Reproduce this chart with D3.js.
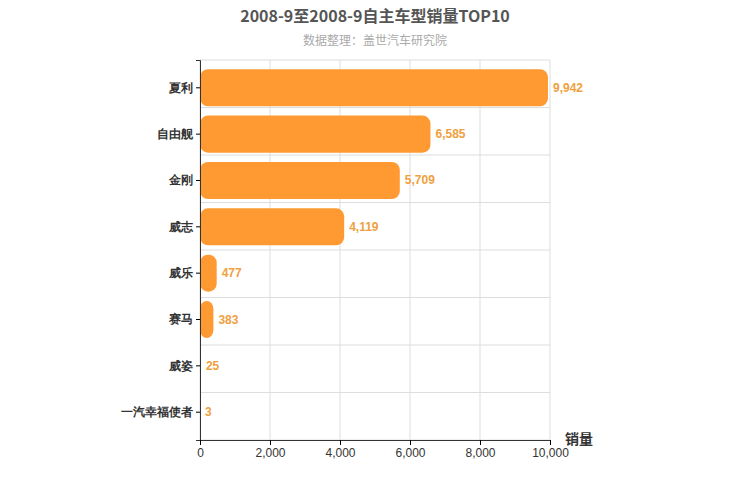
<!DOCTYPE html>
<html lang="zh">
<head>
<meta charset="UTF-8">
<script src="https://d3js.org/d3.v7.min.js"></script>
<style>
  body { margin: 0; font-family: "Noto Sans CJK SC", sans-serif; }
</style>
</head>
<body>
<svg id="chart" width="750" height="500"></svg>
<script>
// data
var models = ["夏利", "自由舰", "金刚", "威志", "威乐", "赛马", "威姿", "一汽幸福使者"];
var sales = [9942, 6585, 5709, 4119, 477, 383, 25, 3];
var xTicks = [0, 2000, 4000, 6000, 8000, 10000];

var svg = d3.select("#chart");
var plotL = 200, plotR = 550, plotT = 60, plotB = 440;

var x = d3.scaleLinear().domain([0, 10000]).range([plotL, plotR]);
var bandY = d3.scaleBand().domain(models).range([plotT, plotB]).padding(0.2);
var fmt = d3.format(",");

// title
svg.append("text").attr("x", 375).attr("y", 22).attr("text-anchor", "middle")
    .style("font-size", "16px").style("font-weight", "bold").style("fill", "#555")
    .text("2008-9至2008-9自主车型销量TOP10");
svg.append("text").attr("x", 375).attr("y", 45).attr("text-anchor", "middle")
    .style("font-size", "12px").style("fill", "#aaa")
    .text("数据整理：盖世汽车研究院");

// grid
svg.selectAll(".vgrid").data(xTicks).enter().append("line")
    .attr("x1", d => x(d)).attr("x2", d => x(d))
    .attr("y1", plotT).attr("y2", plotB)
    .attr("stroke", "#ddd");
var step = (plotB - plotT) / models.length;
svg.selectAll(".hgrid").data(d3.range(models.length + 1)).enter().append("line")
    .attr("x1", plotL).attr("x2", plotR)
    .attr("y1", d => plotT + d * step).attr("y2", d => plotT + d * step)
    .attr("stroke", "#ddd");

// bars
svg.selectAll(".bar").data(models).enter().append("rect")
    .attr("x", plotL)
    .attr("y", d => bandY(d))
    .attr("width", (d, i) => x(sales[i]) - plotL)
    .attr("height", bandY.bandwidth())
    .attr("rx", 8).attr("ry", 8)
    .attr("fill", "#ff9a33");

svg.selectAll(".val").data(models).enter().append("text")
    .attr("x", (d, i) => x(sales[i]) + 5)
    .attr("y", d => bandY(d) + bandY.bandwidth() / 2 + 4)
    .style("font-size", "12px").style("font-weight", "bold").style("fill", "#f0a040")
    .style("font-family", "Arial, sans-serif")
    .text((d, i) => fmt(sales[i]));

// axes
var yAxis = svg.append("g").attr("transform", "translate(" + plotL + ",0)")
    .call(d3.axisLeft(bandY).tickSize(4));
yAxis.selectAll("text").style("font-size", "12px").style("font-weight", "bold").style("fill", "#333");
yAxis.select(".domain").attr("stroke", "#333");

var xAxis = svg.append("g").attr("transform", "translate(0," + plotB + ")")
    .call(d3.axisBottom(x).tickValues(xTicks).tickFormat(fmt).tickSize(5));
xAxis.selectAll("text").style("font-size", "12px").style("fill", "#333").style("font-family", "Arial, sans-serif");
xAxis.select(".domain").attr("stroke", "#333");

svg.append("text").attr("x", 565).attr("y", 444)
    .style("font-size", "14px").style("font-weight", "bold").style("fill", "#333")
    .text("销量");
</script>
</body>
</html>
